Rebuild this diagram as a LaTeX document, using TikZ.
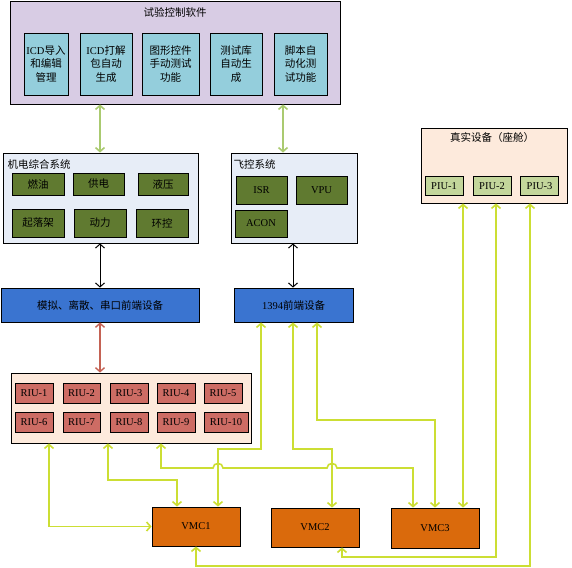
\documentclass[tikz,border=0pt]{standalone}
\usepackage{fontspec}
\setmainfont{Liberation Serif}
\newfontfamily\zhfont{Noto Sans CJK SC}
\newcommand{\zh}[1]{{\zhfont #1}}
\usetikzlibrary{arrows.meta,positioning}
\definecolor{swfill}{RGB}{216,204,228}
\definecolor{swbox}{RGB}{148,206,220}
\definecolor{sysfill}{RGB}{231,237,247}
\definecolor{olivebox}{RGB}{96,122,48}
\definecolor{febox}{RGB}{58,116,208}
\definecolor{peach}{RGB}{253,234,220}
\definecolor{riubox}{RGB}{205,108,100}
\definecolor{piubox}{RGB}{195,214,155}
\definecolor{vmcbox}{RGB}{218,106,12}
\definecolor{busline}{RGB}{204,222,52}
\definecolor{upline}{RGB}{170,202,112}
\definecolor{redline}{RGB}{196,98,84}
\tikzset{
	defaultstyle/.style={
		>={Straight Barb[length=4pt,width=9pt]},
		x=1pt, y=-1pt,
		every node/.style={font=\fontsize{10.5}{13.5}\selectfont}}}

\begin{document}
\begin{tikzpicture}[defaultstyle,
	panel/.style={draw, line width=0.8pt, inner sep=0pt, align=center},
	size/.style 2 args={minimum width=#1pt, minimum height=#2pt},
	bus/.style={<->, busline, line width=1.6pt},
	]
	\useasboundingbox (0,0) rectangle (572,567);
	
	\node[panel, fill=swfill, size={330}{103}] (sw) at (175,52.5) {};
	\node (swT) at (175,12) {\zh{试验控制软件}};
	\node[panel, fill=swbox, size={44}{62}] (sw1) at (46,64) {ICD\zh{导入}\\\zh{和编辑}\\\zh{管理}};
	\node[panel, fill=swbox, size={52}{62}] (sw2) at (106,64) {ICD\zh{打解}\\\zh{包自动}\\\zh{生成}};
	\node[panel, fill=swbox, size={57}{62}] (sw3) at (170.5,64) {\zh{图形控件}\\\zh{手动测试}\\\zh{功能}};
	\node[panel, fill=swbox, size={52}{62}] (sw4) at (236,64) {\zh{测试库}\\\zh{自动生}\\\zh{成}};
	\node[panel, fill=swbox, size={53}{62}] (sw5) at (300.5,64) {\zh{脚本自}\\\zh{动化测}\\\zh{试功能}};
	
	\node[panel, fill=sysfill, size={195}{90}] (elec) at (100.5,198) {};
	\node[anchor=west] (elecT) at (4,164) {\zh{机电综合系统}};
	\node[panel, fill=olivebox, size={52}{22}] (fuel) at (38,184) {\zh{燃油}};
	\node[panel, fill=olivebox, size={51}{22}] (power) at (98.5,184) {\zh{供电}};
	\node[panel, fill=olivebox, size={50}{22}] (hyd) at (163,184) {\zh{液压}};
	\node[panel, fill=olivebox, size={52}{28}] (gear) at (38,223) {\zh{起落架}};
	\node[panel, fill=olivebox, size={52}{28}] (engine) at (100,223) {\zh{动力}};
	\node[panel, fill=olivebox, size={52}{28}] (ecs) at (162,223) {\zh{环控}};
	
	\node[panel, fill=sysfill, size={126}{90}] (fly) at (294,198) {};
	\node[anchor=west] (flyT) at (230,164) {\zh{飞控系统}};
	\node[panel, fill=olivebox, size={51}{28}] (isr) at (261.5,190) {ISR};
	\node[panel, fill=olivebox, size={51}{28}] (vpu) at (321.5,190) {VPU};
	\node[panel, fill=olivebox, size={52}{27}] (acon) at (261,223.5) {ACON};
	
	\node[panel, fill=febox, size={198}{34}] (fe1) at (100,305) {\zh{模拟、离散、串口前端设备}};
	\node[panel, fill=febox, size={119}{34}] (fe2) at (293.5,305) {1394\zh{前端设备}};
	
	\node[panel, fill=peach, size={240}{70}] (riu) at (131,408) {};
	\node[panel, fill=riubox, size={38}{20}] (riu1) at (34,393) {RIU-1};
	\node[panel, fill=riubox, size={37}{20}] (riu2) at (81.5,393) {RIU-2};
	\node[panel, fill=riubox, size={38}{20}] (riu3) at (129,393) {RIU-3};
	\node[panel, fill=riubox, size={38}{20}] (riu4) at (176,393) {RIU-4};
	\node[panel, fill=riubox, size={38}{20}] (riu5) at (223,393) {RIU-5};
	\node[panel, fill=riubox, size={38}{20}] (riu6) at (34,422) {RIU-6};
	\node[panel, fill=riubox, size={37}{20}] (riu7) at (81.5,422) {RIU-7};
	\node[panel, fill=riubox, size={38}{20}] (riu8) at (129,422) {RIU-8};
	\node[panel, fill=riubox, size={38}{20}] (riu9) at (176,422) {RIU-9};
	\node[panel, fill=riubox, size={44}{20}] (riu10) at (226,422) {RIU-10};
	
	\node[panel, fill=peach, size={146}{75}] (real) at (494,165.5) {};
	\node (realT) at (492,138) {\zh{真实设备（座舱）}};
	\node[panel, fill=piubox, size={38}{19}] (piu1) at (444,186) {PIU-1};
	\node[panel, fill=piubox, size={38}{19}] (piu2) at (492,186) {PIU-2};
	\node[panel, fill=piubox, size={38}{19}] (piu3) at (539.5,186) {PIU-3};
	
	\node[panel, fill=vmcbox, size={88}{39}] (vmc1) at (196,526.5) {VMC1};
	\node[panel, fill=vmcbox, size={88}{39}] (vmc2) at (315,527.5) {VMC2};
	\node[panel, fill=vmcbox, size={88}{40}] (vmc3) at (435,528) {VMC3};
	
	\draw[<->, upline, line width=1.6pt] (sw.south -| 100,0) -- (elec.north -| 100,0);
	\draw[<->, upline, line width=1.6pt] (sw.south -| 283,0) -- (fly.north -| 283,0);
	\draw[<->, line width=1pt] (elec.south -| 100,0) -- (fe1.north -| 100,0);
	\draw[<->, line width=1pt] (fly.south -| 293,0) -- (fe2.north -| 293,0);
	\draw[<->, redline, line width=1.4pt] (fe1.south) -- (riu.north -| fe1.south);
	
	\draw[bus] (riu.south -| 49,0) |- (vmc1.west);
	\draw[bus] (riu.south -| 108,0) -- (108,480) -- (177,480) -- (vmc1.north -| 177,0);
	\draw[bus] (fe2.south -| 261,0) -- (261,449) -- (218,449) -- (vmc1.north -| 218,0);
	\draw[bus] (fe2.south -| 293,0) -- (293,449) -- (332,449) -- (vmc2.north -| 332,0);
	\draw[bus] (riu.south -| 161,0) -- (161,468) -- (213,468)
		.. controls (213,462) and (223,462) .. (223,468) -- (327,468)
		.. controls (327,462) and (337,462) .. (337,468) -- (413,468) -- (vmc3.north -| 413,0);
	\draw[bus] (fe2.south -| 317,0) -- (317,420) -- (435,420) -- (vmc3.north);
	\draw[bus] (real.south -| 463,0) -- (vmc3.north -| 463,0);
	\draw[bus] (real.south -| 496,0) -- (496,557) -- (342,557) -- (vmc2.south -| 342,0);
	\draw[bus] (real.south -| 530,0) -- (530,566) -- (196,566) -- (vmc1.south);
	
\end{tikzpicture}
\end{document}
